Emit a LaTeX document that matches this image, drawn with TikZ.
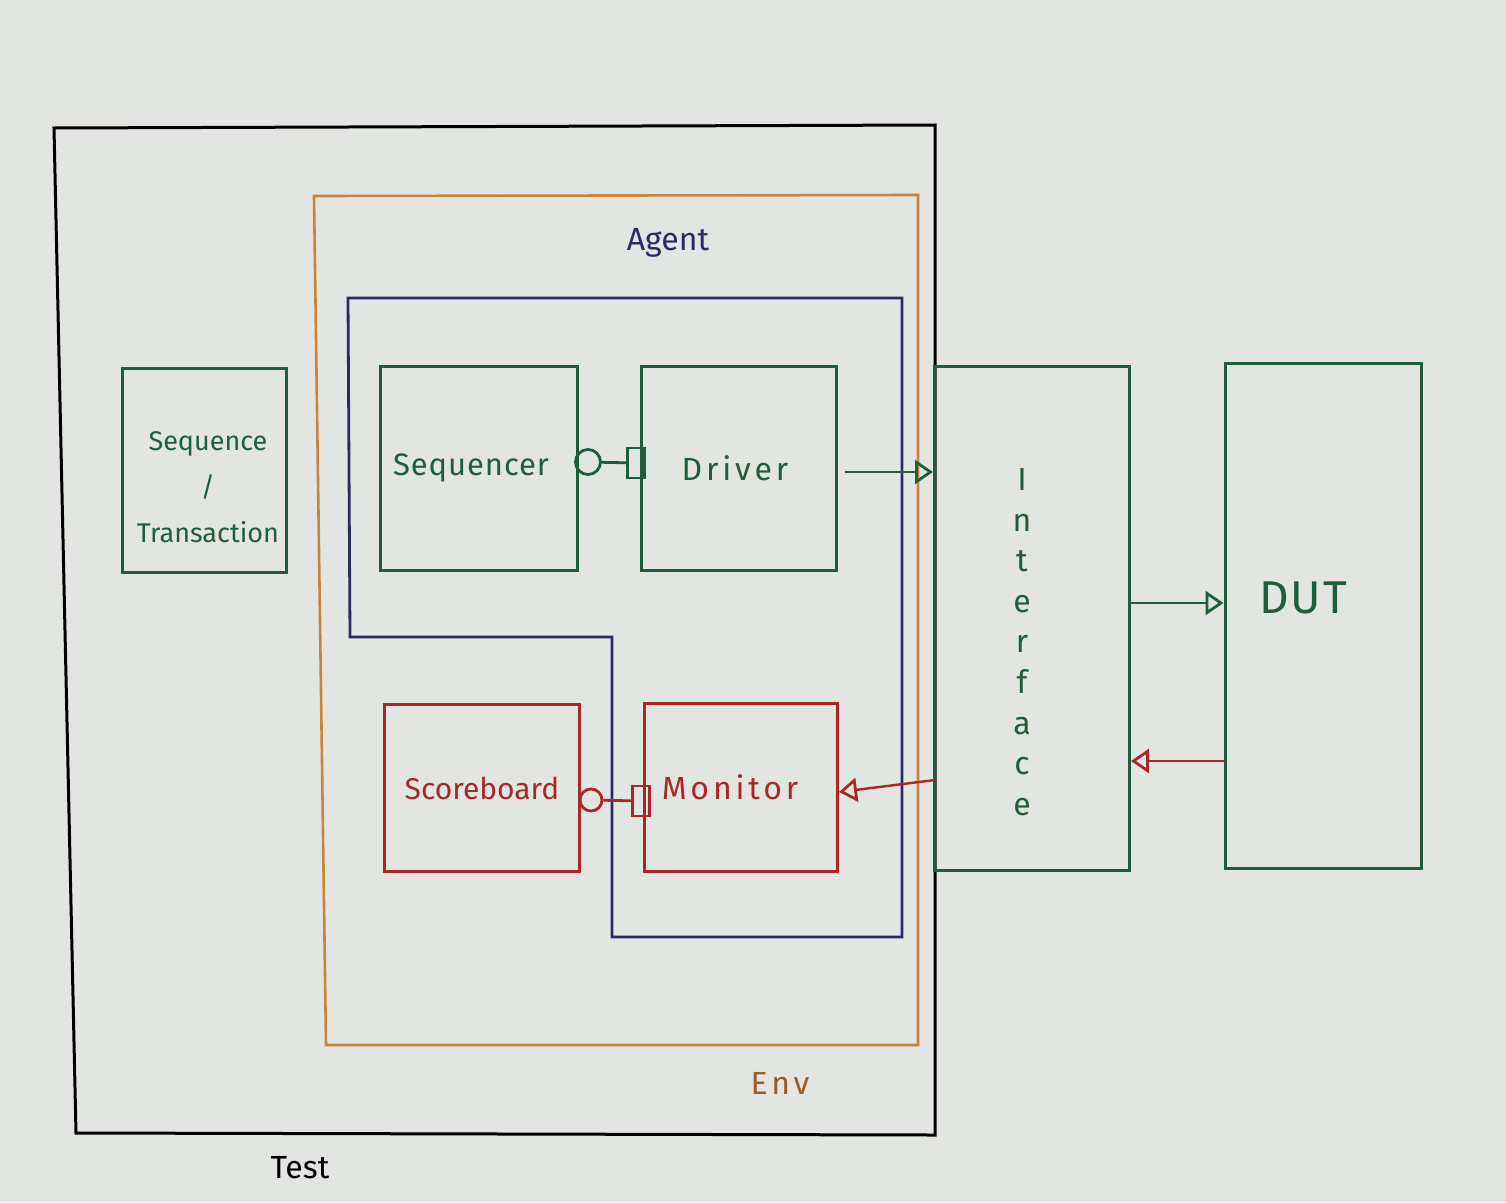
\documentclass[tikz,border=0pt]{standalone}
\usepackage{fontspec}
\setmainfont{Fira Sans}
\usetikzlibrary{arrows.meta}
\definecolor{bg}{HTML}{E3E5E2}
\definecolor{grn}{HTML}{1E5E3A}
\definecolor{rd}{HTML}{A82828}
\definecolor{nv}{HTML}{2B2B63}
\definecolor{org}{HTML}{C8843E}
\definecolor{envc}{HTML}{9A5A28}
\begin{document}
\begin{tikzpicture}[x=1pt,y=-1pt,
  box/.style={draw, line width=3pt, inner sep=0pt, font=\fontsize{30}{36}\selectfont},
  gbox/.style={box, draw=grn, text=grn},
  rbox/.style={box, draw=rd, text=rd},
  arr/.style={line width=2.4pt, -{Triangle[open, length=18pt, width=24pt, line width=2.8pt]}},
  lbl/.style={font=\fontsize{32}{38}\selectfont, inner sep=0pt},
  spaced/.style={font=\fontsize{32}{38}\selectfont\addfontfeatures{LetterSpace=12}},
  portc/.style={draw, circle, line width=2.8pt, minimum size=25pt, inner sep=0pt},
  ports/.style={draw, rectangle, line width=2.8pt, minimum width=17pt, minimum height=30pt, inner sep=0pt},
]
\fill[bg] (0,0) rectangle (1506,1202);
\useasboundingbox (0,0) rectangle (1506,1202);
% Test box
\draw[black, line width=3pt] (54,128) -- (935,125) -- (935,1135) -- (76,1133) -- cycle;
\node[lbl, text=black] (testl) at (300,1168) {Test};
% Env box
\draw[org, line width=2.6pt] (314,196) -- (918,195) -- (918,1045) -- (326,1045) -- cycle;
\node[lbl, text=envc, spaced] (envl) at (780,1083) {Env};
% Agent outline
\draw[nv, line width=2.8pt] (348,298) -- (902,298) -- (902,937) -- (612,937) -- (612,637) -- (350,637) -- cycle;
\node[lbl, text=nv] (agentl) at (668,243) {Agent};
% Boxes
\node[gbox, minimum width=164pt, minimum height=204pt] (seq) at (204,470) {};
\node[text=grn, align=center, inner sep=0pt, font=\fontsize{27}{46}\selectfont] (seql) at (208,487) {Sequence\\/\\Transaction};
\node[gbox, minimum width=197pt, minimum height=204pt, font=\fontsize{31}{36}\selectfont\addfontfeatures{LetterSpace=3}] (seqr) at (479,468) {\hspace*{-16pt}Sequencer};
\node[gbox, minimum width=195pt, minimum height=204pt, spaced] (drv) at (739,468) {Driver\hspace*{8pt}};
\node[rbox, minimum width=195pt, minimum height=167pt] (sb) at (482,788) {Scoreboard};
\node[rbox, minimum width=193pt, minimum height=168pt, spaced] (mon) at (741,787) {Monitor\hspace*{22pt}};
\node[gbox, minimum width=195pt, minimum height=504pt] (intf) at (1032,618) {};
\node[text=grn, align=center, inner sep=0pt, font=\fontsize{32}{40.6}\selectfont] (intfl) at (1022,642)
  {I\\n\\t\\e\\r\\f\\a\\c\\e};
\node[gbox, minimum width=196pt, minimum height=505pt] (dut) at (1323,616) {};
\node[text=grn, inner sep=0pt, font=\fontsize{46}{52}\selectfont\addfontfeatures{LetterSpace=4}] (dutl) at (1303,598) {DUT};
% TLM ports
\node[portc, draw=grn] (c1) at (588,462) {};
\node[ports, draw=grn] (s1) at (636,463) {};
\draw[grn, line width=2.8pt] (c1) -- (s1);
\node[portc, draw=rd, minimum size=22pt] (c2) at (591,800) {};
\node[ports, draw=rd] (s2) at (641,801) {};
\draw[rd, line width=2.8pt] (c2) -- (s2);
% Arrows
\coordinate (a1) at (845,472);
\draw[arr, grn] (a1) -- (intf.west |- a1);
\coordinate (a2) at (1130,603);
\draw[arr, grn] (a2) -- (dut.west |- a2);
\coordinate (a3) at (1224,761);
\draw[arr, rd] (a3) -- (intf.east |- a3);
\coordinate (a4) at (935,780);
\draw[arr, rd] (a4) -- (mon.east |- 0,792);
\end{tikzpicture}
\end{document}
